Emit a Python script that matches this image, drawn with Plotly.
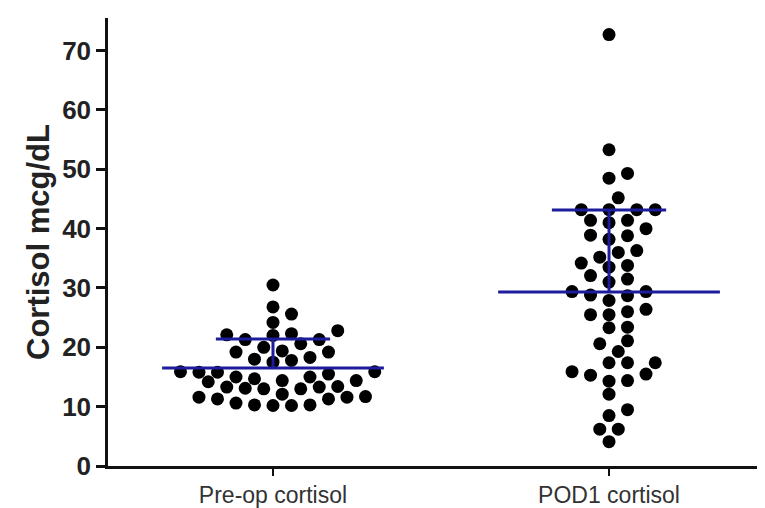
import numpy as np
import plotly.graph_objects as go

# ---------------- data ----------------
categories = ["Pre-op cortisol", "POD1 cortisol"]

preop_cortisol = [
    30.5, 26.8, 25.6, 24.2,
    22.0, 22.1, 21.3, 21.3, 22.3, 22.8,
    20.0, 20.6, 19.4, 19.2, 19.2,
    18.3, 18.0, 17.8, 17.5,
    15.8, 15.8, 15.9, 15.9,
    15.0, 15.5, 14.4, 15.0, 14.4, 14.2, 14.7,
    13.4, 13.0, 13.0, 13.1, 13.3, 13.3,
    12.1, 11.6, 11.3, 10.6, 10.3, 10.2, 10.2, 10.3, 11.3, 11.6, 11.7,
]

pod1_cortisol = [
    72.7, 53.3, 49.3, 48.5, 45.2,
    43.2, 43.2, 43.2, 43.2,
    41.4, 41.0, 41.4, 40.0,
    38.8, 38.2, 38.9,
    36.3, 36.0, 35.2,
    33.8, 33.5, 34.2,
    32.1, 31.5, 31.0,
    29.4, 28.8, 27.9, 28.7, 29.4,
    26.4, 25.5, 25.5, 26.0,
    23.4, 23.3, 21.1, 20.6, 19.3,
    17.4, 17.4, 17.4,
    15.9, 14.4, 15.5, 14.3, 15.3,
    12.1, 9.5, 8.5, 6.2, 6.2, 4.1,
]

y_tick_values = [0, 10, 20, 30, 40, 50, 60, 70]
y_axis_title = "Cortisol mcg/dL"

# ---------------- layout geometry ----------------
W, H = 765, 508
ML, MR, MT, MB = 100, 0, 10, 50
y_range = [0, 75.5]
x_range = [-0.491, 1.488]
plot_w = W - ML - MR
plot_h = H - MT - MB
px_per_y = plot_h / (y_range[1] - y_range[0])
px_per_x = plot_w / (x_range[1] - x_range[0])

DOT = 13          # marker diameter in px
STEP = 9.25       # horizontal step of the swarm grid, px
MIN_DIST = 13.0   # minimum centre distance, px


def swarm_offsets(values):
    """Greedy beeswarm: returns x offsets (in axis units) for each value."""
    vals = np.asarray(values, dtype=float)
    order = np.argsort(vals, kind="stable")
    placed = []
    offs = np.zeros(len(vals))
    cand = [0]
    for k in range(1, 40):
        cand += [k, -k]
    for i in order:
        ypx = vals[i] * px_per_y
        for k in cand:
            xpx = k * STEP
            if all(np.hypot(xpx - px, ypx - py) >= MIN_DIST for px, py in placed):
                break
        placed.append((xpx, ypx))
        offs[i] = xpx / px_per_x
    return offs


fig = go.Figure()

groups = [preop_cortisol, pod1_cortisol]
for gi, vals in enumerate(groups):
    offs = swarm_offsets(vals)
    fig.add_trace(go.Scatter(
        x=gi + offs, y=vals, mode="markers",
        marker=dict(size=DOT, color="black", line=dict(width=0)),
        showlegend=False, hoverinfo="y",
    ))

LINE_COLOR = "#1c1c9c"
HALF_MEAN = 0.33
HALF_CAP = 0.17
for gi, vals in enumerate(groups):
    m = float(np.mean(vals))
    sd = float(np.std(vals, ddof=1))
    fig.add_trace(go.Scatter(
        x=[gi - HALF_MEAN, gi + HALF_MEAN], y=[m, m], mode="lines",
        line=dict(color=LINE_COLOR, width=3), showlegend=False, hoverinfo="skip"))
    fig.add_trace(go.Scatter(
        x=[gi, gi], y=[m, m + sd], mode="lines",
        line=dict(color=LINE_COLOR, width=3), showlegend=False, hoverinfo="skip"))
    fig.add_trace(go.Scatter(
        x=[gi - HALF_CAP, gi + HALF_CAP], y=[m + sd, m + sd], mode="lines",
        line=dict(color=LINE_COLOR, width=3), showlegend=False, hoverinfo="skip"))

fig.update_layout(
    width=W, height=H,
    margin=dict(l=ML, r=MR, t=MT, b=MB),
    paper_bgcolor="white", plot_bgcolor="white",
    font=dict(family="Liberation Sans, Arial, sans-serif", color="#111"),
    xaxis=dict(
        range=x_range, tickvals=[0, 1], ticktext=categories,
        showgrid=False, zeroline=False,
        showline=True, linecolor="#111", linewidth=2.5,
        ticks="outside", ticklen=7, tickwidth=2, tickcolor="#111",
        tickfont=dict(size=23, color="#333"),
    ),
    yaxis=dict(
        range=y_range, tickvals=y_tick_values,
        showgrid=False, zeroline=False,
        showline=True, linecolor="#111", linewidth=2.5,
        ticks="outside", ticklen=9, tickwidth=2.5, tickcolor="#111",
        tickfont=dict(size=26, color="#222", weight="bold"),
        title=dict(text=y_axis_title, standoff=4,
                   font=dict(size=31, color="#222", weight="bold")),
    ),
)

fig.write_html("out.html")
